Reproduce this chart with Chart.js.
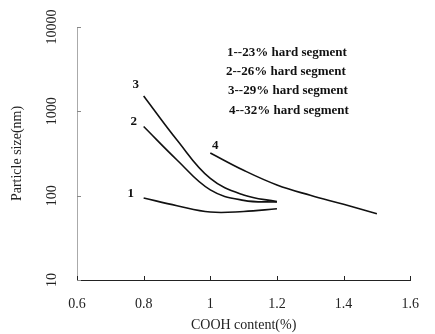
<!DOCTYPE html>
<html><head><meta charset="utf-8">
<script src="https://cdn.jsdelivr.net/npm/chart.js@4/dist/chart.umd.min.js"></script>
<style>html,body{margin:0;padding:0;background:#fff}#wrap{width:435px;height:334px}</style>
</head><body><div id="wrap"><canvas id="c" width="435" height="334"></canvas></div>
<script>
// Data
const x1 = [0.8, 0.9, 1.0, 1.1, 1.2];
const y1 = [94, 76, 64, 65, 70];
const x2 = [0.8, 0.9, 1.0, 1.1, 1.2];
const y2 = [660, 265, 117, 88, 84];
const x3 = [0.8, 0.9, 1.0, 1.1, 1.2];
const y3 = [1520, 457, 160, 102, 85];
const x4 = [1.0, 1.1, 1.2, 1.3, 1.4, 1.5];
const y4 = [321, 200, 134, 101, 79, 61];
const curveLabels = ['1', '2', '3', '4'];
const legendLines = ['1--23% hard segment', '2--26% hard segment', '3--29% hard segment', '4--32% hard segment'];
const yTickValues = [10, 100, 1000, 10000];
const xTickValues = [0.6, 0.8, 1.0, 1.2, 1.4, 1.6];

const pts = (xs, ys) => xs.map((x, i) => ({x: x, y: ys[i]}));
const serif = '"Liberation Serif", "DejaVu Serif", serif';

const mk = (xs, ys) => ({data: pts(xs, ys), borderColor: '#111', borderWidth: 1.6, pointRadius: 0,
  fill: false, tension: 0.4});

const labelOffsets = [[-13, -4], [-10, -5], [-8, -11], [5, -7]];

const deco = {
  id: 'deco',
  afterDraw(chart) {
    const ctx = chart.ctx, xs = chart.scales.x, ys = chart.scales.y;
    const ca = chart.chartArea;
    ctx.save();
    ctx.strokeStyle = '#888'; ctx.lineWidth = 1;
    yTickValues.forEach(v => {
      const py = Math.round(ys.getPixelForValue(v)) + 0.5;
      ctx.beginPath(); ctx.moveTo(ca.left, py); ctx.lineTo(ca.left + 4, py); ctx.stroke();
      ctx.save();
      ctx.translate(52, ys.getPixelForValue(v));
      ctx.rotate(-Math.PI / 2);
      ctx.fillStyle = '#222'; ctx.font = '14px ' + serif;
      ctx.textAlign = 'center'; ctx.textBaseline = 'middle';
      ctx.fillText(String(v), 0, 0);
      ctx.restore();
    });
    ctx.strokeStyle = '#222';
    xTickValues.forEach(v => {
      const px = Math.round(xs.getPixelForValue(v)) + 0.5;
      ctx.beginPath(); ctx.moveTo(px, ca.bottom); ctx.lineTo(px, ca.bottom - 4); ctx.stroke();
    });
    ctx.fillStyle = '#111'; ctx.font = 'bold 13px ' + serif;
    ctx.textAlign = 'center'; ctx.textBaseline = 'middle';
    chart.data.datasets.forEach((ds, i) => {
      const p = ds.data[0];
      ctx.fillText(curveLabels[i], xs.getPixelForValue(p.x) + labelOffsets[i][0], ys.getPixelForValue(p.y) + labelOffsets[i][1]);
    });
    ctx.textAlign = 'left';
    const lx = [227, 226, 228, 229], ly = [53, 72, 91, 111];
    legendLines.forEach((t, i) => ctx.fillText(t, lx[i], ly[i]));
    ctx.restore();
  }
};

new Chart(document.getElementById('c'), {
  type: 'line',
  data: {datasets: [mk(x1, y1), mk(x2, y2), mk(x3, y3), mk(x4, y4)]},
  options: {
    responsive: false, animation: false, devicePixelRatio: 1,
    layout: {padding: {left: 0, top: 27, right: 11, bottom: 0}},
    plugins: {legend: {display: false}, tooltip: {enabled: false}},
    scales: {
      x: {
        type: 'linear', min: 0.6, max: 1.6,
        grid: {display: false, drawTicks: false},
        border: {display: true, color: '#222', width: 1},
        afterBuildTicks: s => { s.ticks = xTickValues.map(v => ({value: v})); },
        ticks: {color: '#222', font: {family: serif, size: 14}, padding: 16,
          callback: v => String(+v.toFixed(1)), maxRotation: 0, autoSkip: false},
        title: {display: true, text: 'COOH content(%)', color: '#222', font: {family: serif, size: 14}, padding: {top: 0, bottom: 0}},
        afterFit: s => { s.height = 54; }
      },
      y: {
        type: 'logarithmic', min: 10, max: 10000,
        grid: {display: false, drawTicks: false},
        border: {display: true, color: '#aaa', width: 1},
        ticks: {display: false},
        title: {display: true, text: 'Particle size(nm)', color: '#222', font: {family: serif, size: 14}, padding: {top: 9, bottom: 0}},
        afterFit: s => { s.width = 77; }
      }
    }
  },
  plugins: [deco]
});
</script>
</body></html>
